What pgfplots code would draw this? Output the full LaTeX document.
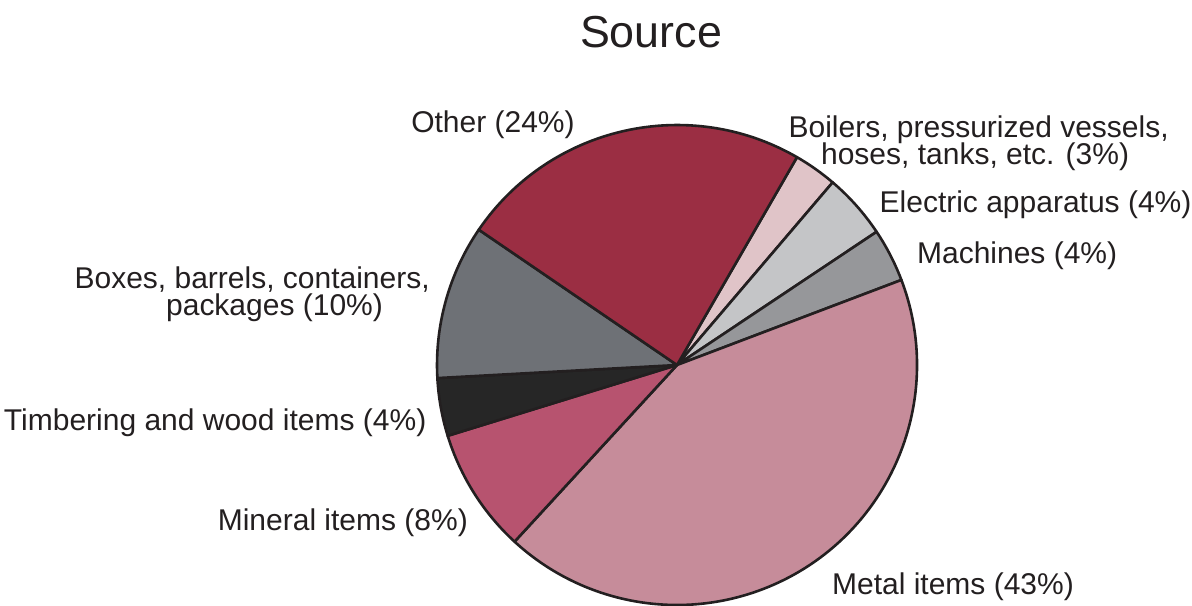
\documentclass[border=0pt]{standalone}
\usepackage{pgfplots}
\pgfplotsset{compat=1.18}
\usepackage{pgfplotstable}
\usepackage{fontspec}
\setmainfont{Liberation Sans}

\definecolor{cOther}{HTML}{9B2E43}
\definecolor{cBoil}{HTML}{E0C4C8}
\definecolor{cElec}{HTML}{C4C5C7}
\definecolor{cMach}{HTML}{96979A}
\definecolor{cMetal}{HTML}{C68C9A}
\definecolor{cMineral}{HTML}{B7536F}
\definecolor{cTimber}{HTML}{262626}
\definecolor{cBoxes}{HTML}{6E7176}
\definecolor{pieline}{HTML}{231F20}
\definecolor{txt}{HTML}{231F20}

% shares in percent, clockwise from the Other/Boilers edge
\pgfplotstableread[col sep=comma]{
value,color
2.9,cBoil
4.4,cElec
3.6,cMach
42.6,cMetal
8.4,cMineral
3.9,cTimber
10.4,cBoxes
23.8,cOther
}\piedata

\begin{document}
\begin{tikzpicture}[font=\fontsize{15}{18}\selectfont, text=txt]
\begin{axis}[
    x=120pt, y=120pt,
    hide axis,
    clip=false,
    xmin=-2.821, xmax=2.146,
    ymin=-1.004, ymax=1.521,
]
\coordinate (bbsw) at (rel axis cs:0,0);
\coordinate (bbne) at (rel axis cs:1,1);
\pgfplotstablegetrowsof{\piedata}
\pgfmathtruncatemacro{\lastrow}{\pgfplotsretval-1}
\def\angstart{60}
\pgfplotsforeachungrouped \i in {0,...,\lastrow}{
    \pgfplotstablegetelem{\i}{value}\of\piedata \let\val\pgfplotsretval
    \pgfplotstablegetelem{\i}{color}\of\piedata \let\col\pgfplotsretval
    \pgfmathsetmacro{\angend}{\angstart-3.6*\val}
    \edef\slice{\noexpand\filldraw[fill=\col, draw=pieline, line width=1.3pt, line join=round]
        (axis cs:0,0) -- ++(\angstart:120pt)
        arc[start angle=\angstart, end angle=\angend, radius=120pt] -- cycle;}
    \slice
    \global\let\angstart\angend
}

\node[anchor=base, font=\fontsize{22.4}{26}\selectfont] at (axis cs:-0.108,1.325) {Source};
\node[anchor=base east] at (axis cs:-0.397,0.968) {Other (24\%)};
\node[anchor=base] at (axis cs:1.257,0.947) {Boilers, pressurized vessels,};
\node[anchor=base] at (axis cs:1.242,0.8375) {hoses, tanks, etc. (3\%)};
\node[anchor=base west] at (axis cs:0.815,0.635) {Electric apparatus (4\%)};
\node[anchor=base west] at (axis cs:0.971,0.424) {Machines (4\%)};
\node[anchor=base west] at (axis cs:0.617,-0.955) {Metal items (43\%)};
\node[anchor=base east] at (axis cs:-0.842,-0.6875) {Mineral items (8\%)};
\node[anchor=base east] at (axis cs:-1.015,-0.271) {Timbering and wood items (4\%)};
\node[anchor=base east] at (axis cs:-1.001,0.320) {Boxes, barrels, containers,};
\node[anchor=base east] at (axis cs:-1.196,0.208) {packages (10\%)};
\end{axis}
\pgfresetboundingbox
\path (bbsw) rectangle (bbne);
\end{tikzpicture}
\end{document}
